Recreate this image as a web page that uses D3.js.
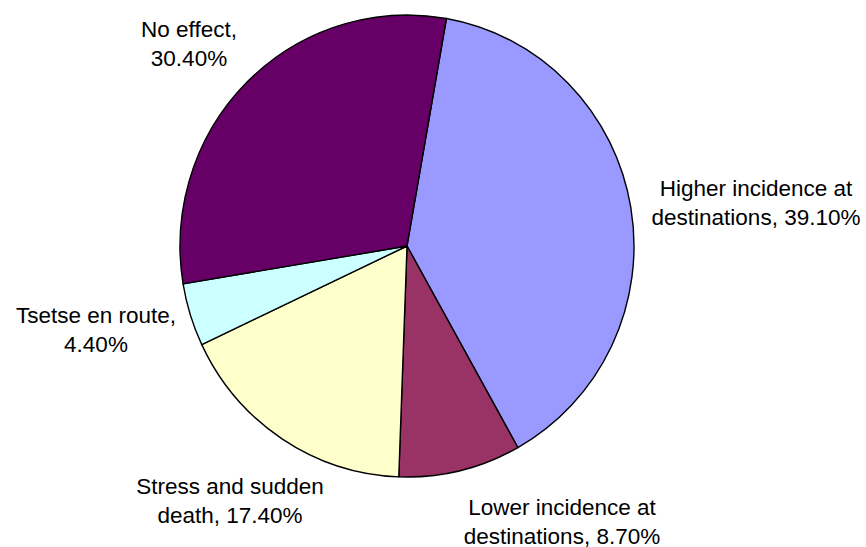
<!DOCTYPE html>
<html>
<head>
<meta charset="utf-8">
<script src="https://cdn.jsdelivr.net/npm/d3@7"></script>
<style>
  body { margin: 0; background: #fff; }
  text { font-family: "Liberation Sans", Arial, sans-serif; font-size: 22.5px; fill: #000; }
</style>
</head>
<body>
<div id="chart"></div>
<script>
const categories = [
    "Higher incidence at destinations",
    "Lower incidence at destinations",
    "Stress and sudden death",
    "Tsetse en route",
    "No effect"
];
const values = [39.1, 8.7, 17.4, 4.4, 30.4];
const colors = ["#9999FF", "#993366", "#FFFFCC", "#CCFFFF", "#660066"];

// label text split in two lines as in the picture
const labelLines = [
    ["Higher incidence at", "destinations, 39.10%"],
    ["Lower incidence at", "destinations, 8.70%"],
    ["Stress and sudden", "death, 17.40%"],
    ["Tsetse en route,", "4.40%"],
    ["No effect,", "30.40%"]
];
// where each label block sits (centre x, first baseline y)
const labelPos = [[756, 196], [562, 515], [230, 494], [96, 323], [189, 37]];

const width = 866, height = 547;
const cx = 407, cy = 246, r = 227;
const startAngle = 10 * Math.PI / 180;

const svg = d3.select("#chart").append("svg")
    .attr("width", width)
    .attr("height", height);

const pie = d3.pie()
    .sort(null)
    .startAngle(startAngle)
    .endAngle(startAngle + 2 * Math.PI)
    .value(d => d);

const arc = d3.arc().innerRadius(0).outerRadius(r);

// pie is slightly taller than wide in the original
const g = svg.append("g")
    .attr("transform", `translate(${cx},${cy}) scale(1,${231 / 227})`);

g.selectAll("path")
    .data(pie(values))
    .enter().append("path")
    .attr("d", arc)
    .attr("fill", (d, i) => colors[i])
    .attr("stroke", "#000")
    .attr("stroke-width", 1.4)
    .attr("stroke-linejoin", "round")
    .attr("vector-effect", "non-scaling-stroke");

const labels = svg.selectAll(".label")
    .data(categories)
    .enter().append("text")
    .attr("class", "label")
    .attr("text-anchor", "middle");

labels.each(function (d, i) {
    const t = d3.select(this);
    labelLines[i].forEach((line, j) => {
        t.append("tspan")
            .attr("x", labelPos[i][0])
            .attr("y", labelPos[i][1] + j * 28.5)
            .text(line);
    });
});
</script>
</body>
</html>
